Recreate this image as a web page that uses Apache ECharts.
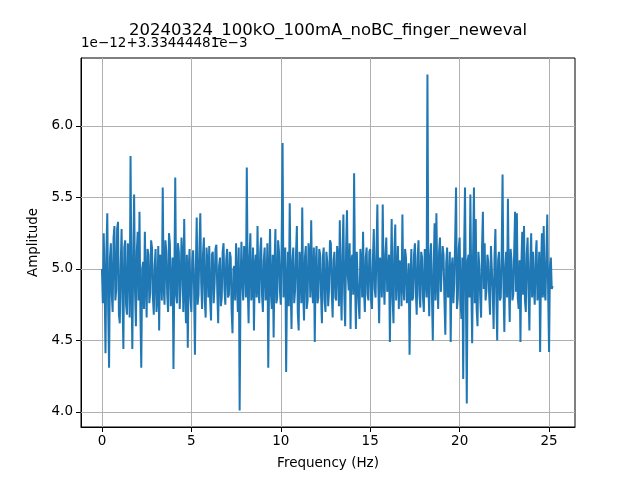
<!DOCTYPE html>
<html>
<head>
<meta charset="utf-8">
<title>20240324_100kO_100mA_noBC_finger_neweval</title>
<script src="https://cdn.jsdelivr.net/npm/echarts@6/dist/echarts.min.js"></script>
<style>
	html, body { margin: 0; padding: 0; background: #fff; }
	#chart { width: 640px; height: 480px; }
</style>
</head>
<body>
<div id="chart"></div>
<script>
// Frequency step of the spectrum (Hz)
let freqStep = 0.05;
// Amplitude, shown as offset 3.33444481e-3 + value * 1e-12 (one row = 1 Hz)
let amplitude = [
	5.00,4.76, 5.25,4.90, 4.41,5.12, 5.39,4.72, 4.31,5.08, 5.18,4.82, 4.70,5.22, 5.30,4.78, 4.85,5.28, 5.33,4.68,
	4.62,5.02, 5.28,4.80, 4.44,5.15, 5.20,4.75, 4.68,5.18, 5.10,4.66, 5.79,4.92, 4.44,5.05, 5.52,4.85, 4.60,5.12,
	5.26,4.78, 5.40,4.70, 4.31,5.00, 5.05,4.72, 5.26,4.90, 4.66,5.14, 5.10,4.76, 4.83,5.20, 5.15,4.80, 4.68,5.02,
	5.14,4.70, 4.80,5.16, 4.57,5.10, 5.05,4.78, 5.57,4.88, 4.75,5.20, 5.12,4.82, 4.70,5.25, 5.18,4.74, 4.85,5.08,
	4.30,4.95, 5.64,4.82, 4.76,5.18, 5.12,4.72, 4.88,5.22, 5.08,4.70, 5.35,4.86, 4.62,5.10, 4.45,5.00, 5.14,4.80,
	4.70,5.05, 5.13,4.88, 4.40,5.00, 5.36,4.75, 4.82,5.14, 5.39,4.90, 4.72,5.10, 5.22,4.78, 4.66,5.15, 5.03,4.80,
	5.16,4.78, 4.64,5.10, 5.12,4.76, 4.90,5.14, 5.17,4.84, 4.62,5.02, 5.08,4.74, 4.80,5.12, 5.18,4.86, 4.75,5.06,
	5.14,4.80, 4.82,5.12, 5.08,4.72, 4.55,5.00, 5.02,4.78, 5.18,4.92, 4.70,5.15, 4.01,4.88, 5.19,4.90, 4.78,5.16,
	5.05,4.80, 5.71,4.90, 4.62,5.08, 5.25,4.78, 4.85,5.15, 4.57,5.02, 5.10,4.80, 5.30,4.86, 4.76,5.12, 5.22,4.82,
	4.70,5.06, 5.15,4.78, 4.86,5.18, 4.31,4.95, 5.28,4.82, 4.72,5.10, 4.52,5.02, 5.28,4.76, 4.80,5.20, 5.12,4.85,
	4.75,5.20, 5.88,4.80, 4.95,5.15, 4.28,4.90, 5.12,4.74, 5.46,4.88, 4.58,5.06, 5.15,4.76, 4.85,5.10, 5.30,4.70,
	4.57,5.12, 5.02,4.76, 5.43,4.84, 4.64,5.08, 5.16,4.72, 4.78,5.18, 5.10,4.80, 5.34,4.90, 4.76,5.15, 4.49,5.02,
	5.16,4.76, 4.80,5.14, 5.10,4.82, 4.62,5.08, 5.15,4.78, 4.70,5.12, 5.05,4.74, 4.86,5.20, 5.18,4.84, 4.66,5.06,
	5.12,4.80, 4.78,5.16, 5.08,4.74, 5.34,4.88, 4.64,5.10, 5.38,4.82, 4.60,5.12, 5.41,4.95, 4.85,5.18, 4.58,5.06,
	5.10,4.82, 5.67,4.95, 4.58,5.12, 4.92,4.76, 4.65,5.14, 5.05,4.80, 5.26,4.86, 4.70,5.08, 5.15,4.82, 4.78,5.12,
	5.14,4.78, 4.72,5.06, 5.28,4.86, 4.80,5.12, 5.45,4.90, 4.62,5.08, 5.02,4.80, 5.45,4.92, 4.75,5.10, 5.22,4.84,
	4.85,5.10, 4.49,4.95, 5.35,4.80, 4.62,5.12, 5.31,4.78, 4.95,5.16, 4.72,5.06, 5.00,4.74, 5.38,4.88, 4.78,5.14,
	5.08,4.76, 4.85,5.04, 4.40,4.92, 5.14,4.78, 4.80,5.10, 5.18,4.84, 4.68,5.08, 5.20,4.82, 4.73,5.12, 5.08,4.80,
	4.70,5.14, 4.95,4.80, 6.36,4.90, 4.67,5.08, 5.18,4.82, 4.50,5.02, 5.32,4.78, 5.39,4.92, 4.72,5.12, 5.22,4.84,
	4.83,5.16, 5.10,4.78, 4.54,5.04, 5.15,4.80, 4.82,5.12, 4.49,5.00, 5.08,4.76, 4.90,5.20, 5.57,4.72, 4.80,5.14,
	5.22,4.78, 4.65,5.08, 4.23,5.12, 5.57,4.82, 4.06,5.06, 5.10,4.80, 5.52,4.90, 4.48,5.10, 5.57,4.76, 5.35,4.72,
	4.60,5.12, 5.02,4.80, 4.66,5.14, 5.40,4.86, 5.18,4.78, 4.85,5.10, 5.05,4.82, 4.68,5.16, 5.00,4.84, 4.58,5.08,
	5.28,4.82, 4.50,5.06, 5.12,4.78, 4.80,5.10, 5.66,4.88, 4.56,5.00, 5.12,4.80, 5.49,4.90, 4.63,5.14, 5.06,4.78,
	4.82,5.12, 5.40,4.84, 5.39,4.80, 4.72,5.06, 4.49,5.02, 5.26,4.82, 5.30,4.78, 4.70,5.10, 5.22,4.86, 4.57,5.04,
	5.25,4.80, 5.12,4.86, 4.75,5.08, 5.20,4.78, 4.88,5.12, 4.42,5.00, 5.25,4.80, 5.30,4.84, 4.78,5.10, 5.38,4.82,
	4.42,5.02, 5.08,4.86, 4.88
];
// Tick labels
let xTicks = [0, 5, 10, 15, 20, 25];
let yTicks = [4.0, 4.5, 5.0, 5.5, 6.0];

let titleText = '20240324_100kO_100mA_noBC_finger_neweval';
let offsetText = '1e\u221212+3.33444481e\u22123';

window.onload = function () {
	let chart = echarts.init(document.getElementById('chart'), null, { renderer: 'canvas' });

	// Pair frequencies with amplitudes
	let points = [];
	for (let i = 0; i < amplitude.length; i++) {
		points.push([+(i * freqStep).toFixed(2), amplitude[i]]);
	}

	let font = 'DejaVu Sans';
	let gridColor = '#b0b0b0';

	let option = {
		animation: false,
		backgroundColor: '#fff',
		title: {
			text: titleText,
			left: 323,
			top: 17,
			textAlign: 'center',
			textStyle: { fontFamily: font, fontSize: 16.5, fontWeight: 'normal', color: '#000' }
		},
		grid: {
			left: 81, right: 65, top: 58, bottom: 53,
			show: true, borderColor: '#000', borderWidth: 1, backgroundColor: 'transparent'
		},
		xAxis: {
			type: 'value',
			min: -1.17,
			max: 26.45,
			name: 'Frequency (Hz)',
			nameLocation: 'middle',
			nameGap: 29,
			nameTextStyle: { fontFamily: font, fontSize: 13.5, color: '#000' },
			axisLine: { show: true, onZero: false, lineStyle: { color: '#000', width: 1 } },
			axisTick: { show: true, inside: false, length: 5, customValues: xTicks, lineStyle: { color: '#000' } },
			axisLabel: { customValues: xTicks, margin: 7, fontFamily: font, fontSize: 13.5, color: '#000',
				formatter: function (v) { return String(v); } },
			splitLine: { show: false }
		},
		yAxis: {
			type: 'value',
			min: 3.895,
			max: 6.475,
			name: 'Amplitude',
			nameLocation: 'middle',
			nameGap: 39,
			nameRotate: 90,
			nameTextStyle: { fontFamily: font, fontSize: 13.5, color: '#000' },
			axisLine: { show: true, onZero: false, lineStyle: { color: '#000', width: 1 } },
			axisTick: { show: true, inside: false, length: 5, customValues: yTicks, lineStyle: { color: '#000' } },
			axisLabel: { customValues: yTicks, margin: 8, fontFamily: font, fontSize: 13.5, color: '#000',
				formatter: function (v) { return v.toFixed(1); } },
			splitLine: { show: false }
		},
		graphic: [{
			type: 'text',
			left: 81,
			top: 36,
			style: { text: offsetText, font: '13.5px "DejaVu Sans"', fill: '#000' }
		}],
		series: [{
			type: 'line',
			data: points,
			showSymbol: false,
			symbol: 'none',
			lineStyle: { color: '#1f77b4', width: 2 },
			z: 3,
			// grid lines drawn from the tick arrays
			markLine: {
				silent: true,
				symbol: 'none',
				label: { show: false },
				lineStyle: { color: gridColor, width: 1, type: 'solid' },
				z: 1,
				data: xTicks.map(function (t) { return { xAxis: t }; })
					.concat(yTicks.map(function (t) { return { yAxis: t }; }))
			}
		}]
	};
	chart.setOption(option);
};
</script>
</body>
</html>
